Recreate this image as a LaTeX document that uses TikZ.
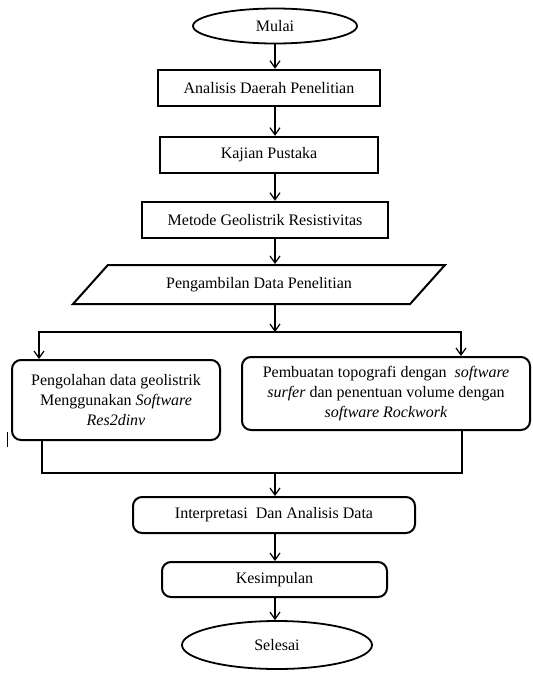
\documentclass[tikz,border=0pt]{standalone}
\usepackage{fontspec}
\setmainfont{Liberation Serif}
\usetikzlibrary{shapes.geometric,arrows.meta}
\begin{document}
\begin{tikzpicture}[x=1pt,y=-1pt,
  every node/.style={font=\fontsize{16}{20}\selectfont, inner sep=2pt},
  oval/.style={ellipse, draw, line width=1.8pt},
  sqbox/.style={rectangle, draw, line width=2.5pt},
  rbox/.style={rectangle, rounded corners=9pt, draw, line width=2pt, align=center},
  para/.style={trapezium, trapezium left angle=28, trapezium right angle=152,
     trapezium stretches body, draw, line width=2pt},
  arr/.style={line width=1.2pt, -{Straight Barb[length=7pt,width=10pt,line width=1.2pt]}},
  joinline/.style={line width=2pt}
]
\useasboundingbox (0,0) rectangle (533,673);

\node[oval, minimum width=164pt, minimum height=35pt] (start) at (275,26) {Mulai};
\node[sqbox, minimum width=222pt, minimum height=36pt] (a1) at (269,88) {Analisis Daerah Penelitian};
\node[sqbox, minimum width=218pt, minimum height=36pt] (a2) at (269,155) {Kajian Pustaka};
\node[sqbox, minimum width=246pt, minimum height=36pt] (a3) at (265,220) {Metode Geolistrik Resistivitas};
\node[para, minimum width=372pt, minimum height=39pt] (data) at (259,284.5) {Pengambilan Data Penelitian};

\node[rbox, minimum width=208pt, minimum height=80pt] (b1) at (116,400)
  {Pengolahan data geolistrik\\Menggunakan \textit{Software}\\\textit{Res2dinv}};
\node[rbox, minimum width=288pt, minimum height=73pt] (b2) at (386,393.5)
  {Pembuatan topografi dengan\ \ \textit{software}\\\textit{surfer} dan penentuan volume dengan\\\textit{software Rockwork}};

\node[rbox, minimum width=282pt, minimum height=36pt] (c1) at (274,515) {Interpretasi\ \ Dan Analisis Data};
\node[rbox, minimum width=225pt, minimum height=35pt] (c2) at (274.5,579.5) {Kesimpulan};
\node[oval, minimum width=190pt, minimum height=48pt] (end) at (277,645) {Selesai};

\coordinate (split) at (275,332);
\coordinate (join) at (275,473);

\draw[arr] (start.south) -- (a1.north -| start);
\draw[arr] (a1.south -| start) -- (a2.north -| start);
\draw[arr] (a2.south -| start) -- (a3.north -| start);
\draw[arr] (a3.south -| start) -- (data.north -| start);
\draw[arr] (data.south -| start) -- (split);
\draw[arr] (split) -| ([xshift=28pt]b1.north west);
\draw[arr] (split) -| ([xshift=-70pt]b2.north east);
\draw[joinline] ([xshift=31pt]b1.south west) |- (join) -| ([xshift=-69pt]b2.south east);
\draw[arr] (join) -- (c1.north -| join);
\draw[arr] (c1.south -| join) -- (c2.north -| join);
\draw[arr] (c2.south -| join) -- (end.north -| join);

\draw[line width=1pt] (7,432) -- (7,447);
\end{tikzpicture}
\end{document}
